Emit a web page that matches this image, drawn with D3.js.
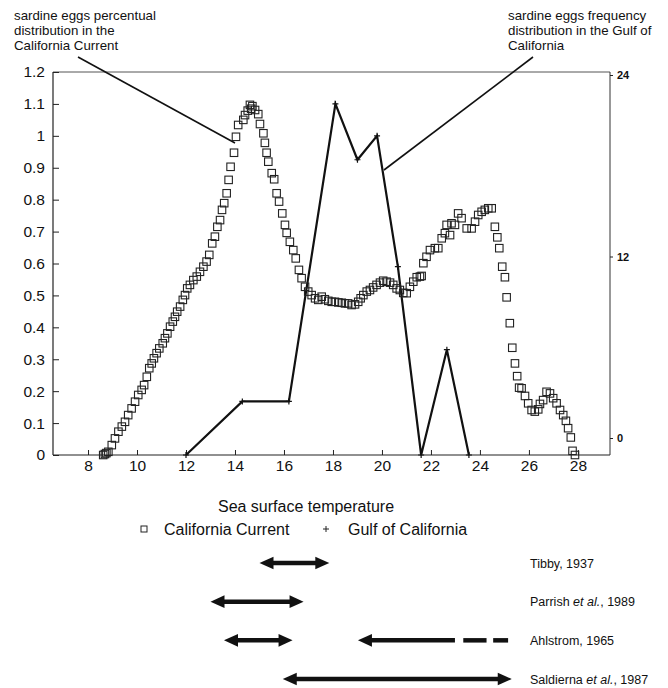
<!DOCTYPE html>
<html>
<head>
<meta charset="utf-8">
<script src="https://cdn.jsdelivr.net/npm/d3@7"></script>
<style>
  body { margin: 0; background: #fff; }
  text { font-family: "Liberation Sans", Arial, Helvetica, sans-serif; fill: #111; }
</style>
</head>
<body>
<div id="viz"></div>
<script>
// California Current: sardine eggs percentual distribution (left axis)
const ccTemp = [8.62,8.69,8.75,8.83,8.97,9.10,9.24,9.38,9.51,9.64,9.78,9.92,10.05,10.19,10.29,10.40,10.50,10.60,10.69,10.80,10.91,11.05,11.14,11.24,11.35,11.46,11.55,11.64,11.76,11.87,11.96,12.05,12.16,12.30,12.44,12.57,12.71,12.84,12.95,13.07,13.18,13.28,13.39,13.47,13.56,13.66,13.74,13.82,13.96,14.04,14.13,14.34,14.41,14.52,14.61,14.66,14.71,14.82,14.95,15.02,15.16,15.22,15.29,15.36,15.50,15.60,15.70,15.80,15.93,16.04,16.11,16.24,16.38,16.48,16.61,16.72,16.86,16.99,17.13,17.27,17.40,17.54,17.67,17.81,17.95,18.08,18.22,18.36,18.49,18.62,18.76,18.90,19.03,19.13,19.24,19.38,19.51,19.64,19.78,19.92,20.05,20.19,20.33,20.46,20.60,20.73,20.87,21.01,21.14,21.28,21.42,21.55,21.62,21.69,21.82,21.96,22.16,22.30,22.44,22.57,22.64,22.78,22.84,22.98,23.11,23.25,23.46,23.66,23.80,23.93,24.07,24.20,24.34,24.48,24.61,24.71,24.79,24.91,25.02,25.09,25.22,25.32,25.43,25.52,25.60,25.70,25.84,25.97,26.11,26.24,26.38,26.45,26.58,26.72,26.86,26.99,27.13,27.27,27.40,27.51,27.60,27.71,27.78,27.88];
const ccValue = [0.0,0.003,0.006,0.01,0.031,0.052,0.073,0.089,0.104,0.125,0.146,0.167,0.188,0.204,0.219,0.245,0.272,0.287,0.303,0.319,0.334,0.350,0.366,0.381,0.402,0.418,0.433,0.449,0.465,0.486,0.501,0.522,0.533,0.548,0.559,0.574,0.590,0.606,0.627,0.663,0.684,0.715,0.736,0.768,0.789,0.820,0.862,0.903,0.947,0.997,1.034,1.05,1.065,1.079,1.097,1.085,1.093,1.081,1.068,1.037,1.008,0.978,0.947,0.919,0.883,0.864,0.820,0.794,0.757,0.721,0.696,0.668,0.642,0.616,0.580,0.554,0.527,0.512,0.501,0.491,0.486,0.496,0.488,0.483,0.480,0.480,0.478,0.477,0.475,0.475,0.470,0.472,0.480,0.491,0.501,0.512,0.517,0.525,0.533,0.540,0.546,0.543,0.540,0.533,0.522,0.517,0.508,0.507,0.527,0.543,0.557,0.559,0.561,0.601,0.621,0.642,0.648,0.648,0.679,0.695,0.721,0.689,0.726,0.721,0.757,0.742,0.710,0.710,0.731,0.752,0.762,0.768,0.773,0.773,0.715,0.682,0.648,0.590,0.557,0.494,0.413,0.336,0.287,0.247,0.211,0.209,0.185,0.162,0.141,0.136,0.143,0.160,0.172,0.198,0.193,0.178,0.162,0.141,0.125,0.107,0.084,0.055,0.013,0.0];

// Gulf of California: sardine eggs frequency (drawn in left-axis units)
const gulfTemp = [12.0,14.3,16.2,18.1,19.0,19.8,20.65,21.6,22.65,23.55];
const gulfValue = [0,0.168,0.168,1.10,0.925,1.0,0.59,0,0.33,0];

const yTicks = [0,0.1,0.2,0.3,0.4,0.5,0.6,0.7,0.8,0.9,1,1.1,1.2];
const xTicks = [8,10,12,14,16,18,20,22,24,26,28];
const rightTicks = [0,12,24];

// literature temperature ranges
const refAuthor = ["Tibby", "Parrish", "Ahlstrom", "Saldierna"];
const refEtAl = [false, true, false, true];
const refYear = [1937, 1989, 1965, 1987];
const refFrom = [15.0, 13.0, 13.55, 15.95];
const refTo = [17.85, 16.8, 16.35, 25.3];
// Ahlstrom's second, open-ended range
const ahlFrom = 19.02;
const ahlTo = 22.98;
const ahlDashes = [[23.32, 24.27], [24.54, 25.15]];

const width = 668;
const height = 688;

const svg = d3.select("#viz")
  .append("svg")
  .attr("width", width)
  .attr("height", height)
  .style("background-color", "white");

const x = d3.scaleLinear().domain([6.57, 29.31]).range([53, 610]);
const y = d3.scaleLinear().domain([0, 1.2]).range([455, 72]);
const yR = d3.scaleLinear().domain([0, 24]).range([438, 75]);

// frame
svg.append("line")
  .attr("x1", x.range()[0]).attr("x2", x.range()[1])
  .attr("y1", y(1.2)).attr("y2", y(1.2))
  .attr("stroke", "#555").attr("stroke-width", 1);
svg.append("line")
  .attr("x1", x.range()[0]).attr("x2", x.range()[1])
  .attr("y1", y(0)).attr("y2", y(0))
  .attr("stroke", "#222").attr("stroke-width", 1.2);
svg.append("line")
  .attr("x1", x.range()[0]).attr("x2", x.range()[0])
  .attr("y1", y(0)).attr("y2", y(1.2))
  .attr("stroke", "#222").attr("stroke-width", 1.2);
svg.append("line")
  .attr("x1", x.range()[1]).attr("x2", x.range()[1])
  .attr("y1", y(0)).attr("y2", y(1.2))
  .attr("stroke", "#333").attr("stroke-width", 1);

// left axis, ticks inward
const yAxis = svg.append("g")
  .attr("transform", `translate(${x.range()[0]},0)`)
  .call(d3.axisLeft(y).tickValues(yTicks).tickSize(-6).tickPadding(8)
    .tickFormat(d => String(+d.toFixed(1))));
yAxis.select(".domain").remove();
yAxis.selectAll("line").attr("stroke", "#222");
yAxis.selectAll("text").style("font-size", "15.5px").style("fill", "#111")
  .style("font-family", '"Liberation Sans", Arial, sans-serif');

// bottom axis, ticks inward
const xAxis = svg.append("g")
  .attr("transform", `translate(0,${y(0)})`)
  .call(d3.axisBottom(x).tickValues(xTicks).tickSize(-5).tickPadding(5));
xAxis.select(".domain").remove();
xAxis.selectAll("line").attr("stroke", "#222");
xAxis.selectAll("text").style("font-size", "15.5px").style("fill", "#111")
  .style("font-family", '"Liberation Sans", Arial, sans-serif');

// right axis (frequency)
const rAxis = svg.append("g")
  .attr("transform", `translate(${x.range()[1]},0)`)
  .call(d3.axisRight(yR).tickValues(rightTicks).tickSize(3).tickPadding(4));
rAxis.select(".domain").remove();
rAxis.selectAll("line").attr("stroke", "#222");
rAxis.selectAll("text").style("font-size", "11px").style("font-weight", "bold")
  .style("fill", "#111").style("font-family", '"Liberation Sans", Arial, sans-serif');

// Gulf of California line
const line = d3.line().x(d => x(d[0])).y(d => y(d[1]));
const gulf = d3.zip(gulfTemp, gulfValue);
svg.append("path")
  .datum(gulf)
  .attr("d", line)
  .attr("fill", "none")
  .attr("stroke", "#111")
  .attr("stroke-width", 2.2)
  .attr("stroke-linejoin", "miter");
svg.append("g").selectAll("path")
  .data(gulf)
  .enter()
  .append("path")
  .attr("d", d => `M${x(d[0]) - 3},${y(d[1])}h6M${x(d[0])},${y(d[1]) - 3}v6`)
  .attr("stroke", "#111")
  .attr("stroke-width", 1.2);

// California Current squares
const cc = d3.zip(ccTemp, ccValue);
svg.append("g").selectAll("rect")
  .data(cc)
  .enter()
  .append("rect")
  .attr("x", d => x(d[0]) - 3.75)
  .attr("y", d => y(d[1]) - 3.75)
  .attr("width", 7.5)
  .attr("height", 7.5)
  .attr("fill", "none")
  .attr("stroke", "#222")
  .attr("stroke-width", 1.1);

// annotations
const noteLeft = ["sardine eggs percentual", "distribution in the", "California Current"];
const noteRight = ["sardine eggs frequency", "distribution in the Gulf of", "California"];
svg.append("g").selectAll("text")
  .data(noteLeft).enter().append("text")
  .attr("x", 14).attr("y", (d, i) => 20 + i * 15)
  .style("font-size", "13.3px")
  .text(d => d);
svg.append("g").selectAll("text")
  .data(noteRight).enter().append("text")
  .attr("x", 508).attr("y", (d, i) => 20 + i * 15)
  .style("font-size", "13.3px")
  .text(d => d);
svg.append("line")
  .attr("x1", 78).attr("y1", 57).attr("x2", 235).attr("y2", 143)
  .attr("stroke", "#111").attr("stroke-width", 1.6);
svg.append("line")
  .attr("x1", 533).attr("y1", 57).attr("x2", 384).attr("y2", 170)
  .attr("stroke", "#111").attr("stroke-width", 1.6);

// axis title and legend
svg.append("text")
  .attr("x", 306).attr("y", 512)
  .attr("text-anchor", "middle")
  .style("font-size", "16px")
  .text("Sea surface temperature");
svg.append("rect")
  .attr("x", 141).attr("y", 526).attr("width", 6).attr("height", 6)
  .attr("fill", "none").attr("stroke", "#222").attr("stroke-width", 1);
svg.append("text")
  .attr("x", 164).attr("y", 535)
  .style("font-size", "16px")
  .text("California Current");
svg.append("path")
  .attr("d", "M323,529h6M326,526v6")
  .attr("stroke", "#222").attr("stroke-width", 1);
svg.append("text")
  .attr("x", 348).attr("y", 535)
  .style("font-size", "16px")
  .text("Gulf of California");

// literature ranges below the chart
const ry = d3.scalePoint().domain(refAuthor).range([563, 679]);
const headLen = 14;
const headHalf = 6.3;

function drawArrow(g, x1, x2, yy, leftHead, rightHead) {
  const a = leftHead ? x1 + headLen - 1 : x1;
  const b = rightHead ? x2 - headLen + 1 : x2;
  g.append("line")
    .attr("x1", a).attr("x2", b).attr("y1", yy).attr("y2", yy)
    .attr("stroke", "#111").attr("stroke-width", 4.5);
  if (leftHead) {
    g.append("path")
      .attr("d", `M${x1},${yy}L${x1 + headLen},${yy - headHalf}L${x1 + headLen},${yy + headHalf}Z`)
      .attr("fill", "#111");
  }
  if (rightHead) {
    g.append("path")
      .attr("d", `M${x2},${yy}L${x2 - headLen},${yy - headHalf}L${x2 - headLen},${yy + headHalf}Z`)
      .attr("fill", "#111");
  }
}

const refs = svg.append("g");
refAuthor.forEach((name, i) => {
  drawArrow(refs, x(refFrom[i]), x(refTo[i]), ry(name), true, true);
  const t = refs.append("text")
    .attr("x", 530).attr("y", ry(name) + 4.5)
    .style("font-size", "12.5px");
  if (refEtAl[i]) {
    t.append("tspan").text(name + " ");
    t.append("tspan").style("font-style", "italic").text("et al.");
    t.append("tspan").text(", " + refYear[i]);
  } else {
    t.text(name + ", " + refYear[i]);
  }
});
drawArrow(refs, x(ahlFrom), x(ahlTo), ry("Ahlstrom"), true, false);
refs.selectAll(".dash")
  .data(ahlDashes)
  .enter()
  .append("line")
  .attr("class", "dash")
  .attr("x1", d => x(d[0])).attr("x2", d => x(d[1]))
  .attr("y1", ry("Ahlstrom")).attr("y2", ry("Ahlstrom"))
  .attr("stroke", "#111").attr("stroke-width", 4.5);
</script>
</body>
</html>
